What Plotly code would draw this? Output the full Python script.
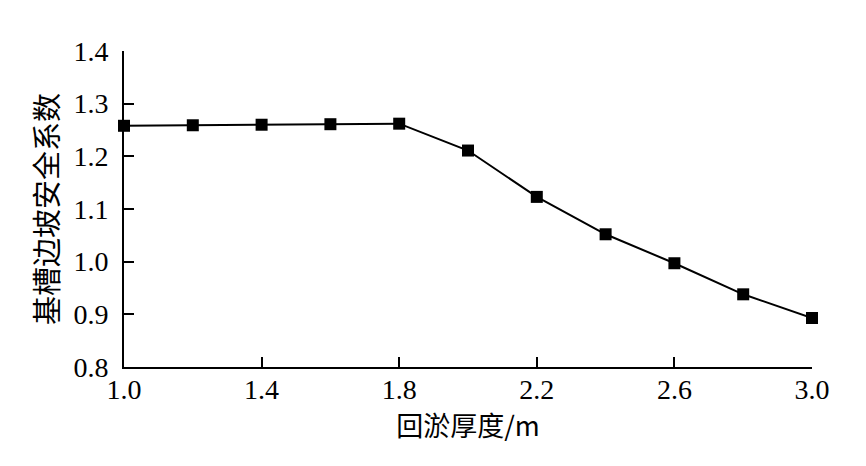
import plotly.graph_objs as go

# backfill thickness (m) vs. slope safety factor
thickness = [1.0, 1.2, 1.4, 1.6, 1.8, 2.0, 2.2, 2.4, 2.6, 2.8, 3.0]
safety_factor = [1.258, 1.259, 1.260, 1.261, 1.262, 1.211, 1.123, 1.052, 0.997, 0.938, 0.893]

x_ticks = [1.0, 1.4, 1.8, 2.2, 2.6, 3.0]
y_ticks = [0.8, 0.9, 1.0, 1.1, 1.2, 1.3, 1.4]

serif = "Liberation Serif, Times New Roman, serif"
cjk = "Noto Sans CJK SC, sans-serif"

fig = go.Figure()

fig.add_trace(
    go.Scatter(
        x = thickness,
        y = safety_factor,
        mode = "lines+markers",
        line = {"color": "black", "width": 2},
        marker = {"symbol": "square", "size": 12, "color": "black"},
        cliponaxis = False,
        showlegend = False
    )
)

axis_common = dict(
    showline = True,
    linecolor = "black",
    linewidth = 2,
    ticks = "inside",
    ticklen = 10,
    tickwidth = 2,
    tickcolor = "black",
    showgrid = False,
    zeroline = False,
    mirror = False,
    tickfont = {"family": serif, "size": 28, "color": "black"},
)

fig.update_xaxes(
    range = [1.0, 3.0],
    tickvals = x_ticks,
    ticktext = ["%.1f" % v for v in x_ticks],
    ticklabelstandoff = -4,
    title = {"text": "回淤厚度/m", "font": {"family": cjk, "size": 27, "color": "black"}, "standoff": 0},
    **axis_common
)
fig.update_yaxes(
    range = [0.8, 1.4],
    tickvals = y_ticks,
    ticktext = ["%.1f" % v for v in y_ticks],
    ticklabelstandoff = 8,
    title = {"text": "基槽边坡安全系数", "font": {"family": cjk, "size": 29, "color": "black"}, "standoff": 6},
    **axis_common
)

# page body adds an 8px offset, so margins are shifted to compensate
fig.update_layout(
    width = 866,
    height = 466,
    margin = {"l": 116, "r": 62, "t": 43, "b": 107},
    plot_bgcolor = "white",
    paper_bgcolor = "white",
)

fig.write_html("out.html")
